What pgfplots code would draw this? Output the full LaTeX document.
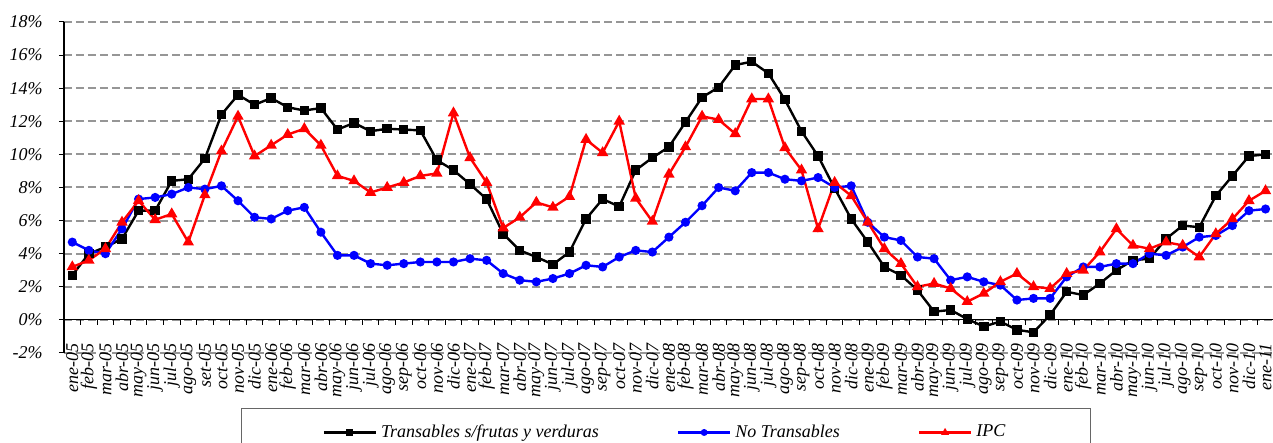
\documentclass[border=0pt]{standalone}
\usepackage{fontspec}
\setmainfont{Liberation Serif}
\usepackage{pgfplots}
\pgfplotsset{compat=1.18}
\definecolor{gridgray}{RGB}{150,150,150}
\definecolor{myblue}{RGB}{0,0,255}
\definecolor{myred}{RGB}{255,0,0}
\newcommand{\lblfont}{\fontsize{9}{10}\selectfont\itshape}
\pgfplotstableread{
x t nt ipc
0 2.7 4.7 3.2
1 4.0 4.2 3.6
2 4.4 4.0 4.3
3 4.9 5.5 5.9
4 6.6 7.3 7.2
5 6.6 7.4 6.05
6 8.4 7.6 6.4
7 8.5 8.0 4.7
8 9.75 7.9 7.55
9 12.4 8.1 10.2
10 13.6 7.2 12.3
11 13.0 6.2 9.9
12 13.4 6.1 10.55
13 12.85 6.6 11.2
14 12.65 6.8 11.55
15 12.8 5.3 10.55
16 11.5 3.9 8.7
17 11.9 3.9 8.4
18 11.4 3.4 7.7
19 11.55 3.3 8.0
20 11.5 3.4 8.3
21 11.45 3.5 8.7
22 9.65 3.5 8.85
23 9.05 3.5 12.5
24 8.2 3.7 9.8
25 7.3 3.6 8.3
26 5.2 2.8 5.55
27 4.2 2.4 6.2
28 3.8 2.3 7.1
29 3.35 2.5 6.8
30 4.1 2.8 7.45
31 6.1 3.3 10.9
32 7.3 3.2 10.1
33 6.85 3.8 12.0
34 9.05 4.2 7.35
35 9.8 4.1 5.95
36 10.45 5.0 8.8
37 11.95 5.9 10.45
38 13.45 6.9 12.3
39 14.05 8.0 12.1
40 15.4 7.8 11.25
41 15.6 8.9 13.35
42 14.9 8.9 13.35
43 13.3 8.5 10.4
44 11.4 8.4 9.05
45 9.9 8.6 5.5
46 7.95 8.0 8.3
47 6.1 8.1 7.5
48 4.7 5.9 5.9
49 3.2 5.0 4.3
50 2.7 4.8 3.4
51 1.8 3.8 2.0
52 0.5 3.7 2.2
53 0.6 2.4 1.9
54 0.05 2.6 1.1
55 -0.4 2.3 1.6
56 -0.1 2.1 2.3
57 -0.6 1.2 2.8
58 -0.75 1.3 2.0
59 0.3 1.3 1.9
60 1.7 2.6 2.8
61 1.5 3.2 3.0
62 2.2 3.2 4.1
63 3.0 3.4 5.5
64 3.6 3.4 4.5
65 3.7 4.0 4.3
66 4.9 3.9 4.7
67 5.7 4.4 4.5
68 5.6 5.0 3.8
69 7.5 5.1 5.2
70 8.7 5.7 6.1
71 9.9 6.6 7.2
72 10.0 6.7 7.8
}\datatable
\begin{document}
\begin{tikzpicture}
\begin{axis}[
  at={(0,0)}, anchor=south west,
  scale only axis, width=604.5pt, height=165.5pt,
  xmin=-0.5, xmax=72.45, ymin=-2, ymax=18,
  axis x line*=middle, axis y line*=left,
  axis line style={black, line width=0.6pt},
  xtick={0,...,72},
  xticklabels={ene-05,feb-05,mar-05,abr-05,may-05,jun-05,jul-05,ago-05,set-05,oct-05,nov-05,dic-05,
    ene-06,feb-06,mar-06,abr-06,may-06,jun-06,jul-06,ago-06,sep-06,oct-06,nov-06,dic-06,
    ene-07,feb-07,mar-07,abr-07,may-07,jun-07,jul-07,ago-07,sep-07,oct-07,nov-07,dic-07,
    ene-08,feb-08,mar-08,abr-08,may-08,jun-08,jul-08,ago-08,sep-08,oct-08,nov-08,dic-08,
    ene-09,feb-09,mar-09,abr-09,may-09,jun-09,jul-09,ago-09,sep-09,oct-09,nov-09,dic-09,
    ene-10,feb-10,mar-10,abr-10,may-10,jun-10,jul-10,ago-10,sep-10,oct-10,nov-10,dic-10,
    ene-11},
  minor xtick={-0.5,0.5,...,72.5},
  major x tick style={draw=none},
  minor x tick style={black, line width=0.5pt},
  tick align=outside,
  major tick length=2.5pt, minor tick length=2.5pt,
  hide obscured x ticks=false,
  xticklabel style={rotate=90, anchor=east, inner sep=0pt, font=\lblfont},
  xticklabel shift=9pt,
  ytick={-2,0,...,18},
  yticklabels={-2\%,0\%,2\%,4\%,6\%,8\%,10\%,12\%,14\%,16\%,18\%},
  yticklabel style={font=\lblfont, inner sep=0pt},
  yticklabel shift=8pt,
  ytick style={black, line width=0.5pt},
  ymajorgrids,
  major grid style={gridgray, line width=1pt, dash pattern=on 4pt off 2pt},
  legend columns=3,
  legend style={at={(0.1464,-0.166)}, anchor=north west, draw=black!60, line width=0.7pt,
    font=\lblfont, inner xsep=40.5pt, inner ysep=6pt,
    /tikz/every even column/.append style={column sep=37pt}},
  legend image code/.code={\draw[mark repeat=2,mark phase=2,mark size=1.1pt] plot coordinates {(0pt,0pt) (13pt,0pt) (26pt,0pt)};},
  every axis plot/.append style={line width=1.2pt},
]
\addplot[black, mark=square*, mark size=1.75pt, mark options={solid}] table[x=x,y=t]{\datatable};
\addlegendentry{Transables s/frutas y verduras}
\addplot[myblue, mark=*, mark size=1.65pt] table[x=x,y=nt]{\datatable};
\addlegendentry{No Transables}
\addplot[myred, mark=triangle*, mark size=2.1pt] table[x=x,y=ipc]{\datatable};
\addlegendentry{IPC}
\end{axis}
\pgfresetboundingbox
\useasboundingbox (-32pt,-45pt) rectangle (604.5pt,176.5pt);
\end{tikzpicture}
\end{document}
